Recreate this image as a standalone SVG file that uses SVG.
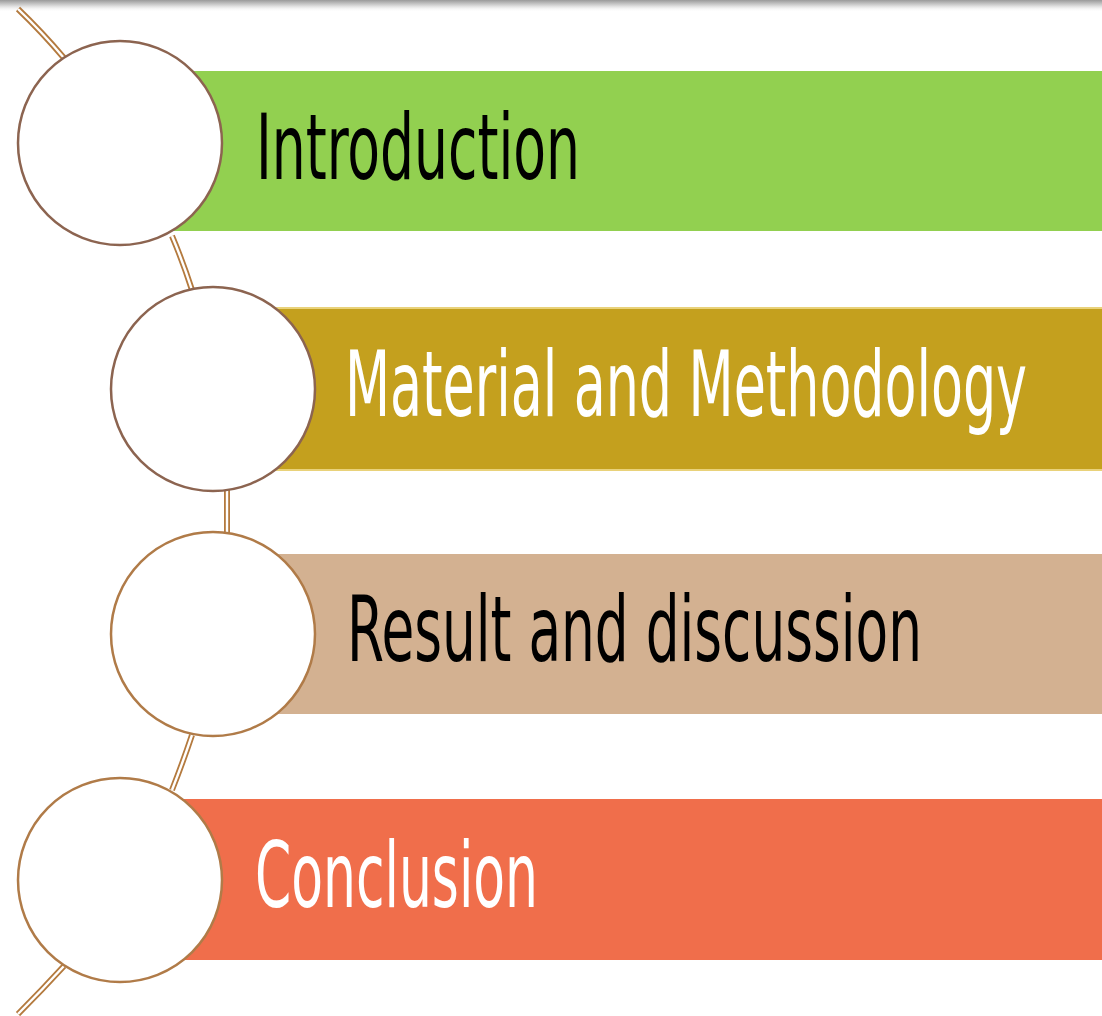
<svg xmlns="http://www.w3.org/2000/svg" width="1102" height="1016" viewBox="0 0 1102 1016">
<defs>
<linearGradient id="shadow" x1="0" y1="0" x2="0" y2="1">
<stop offset="0" stop-color="#9a9a9a"/>
<stop offset="0.5" stop-color="#dcdcdc"/>
<stop offset="1" stop-color="#ffffff" stop-opacity="0"/>
</linearGradient>
</defs>
<style>
.lbl{font-family:"Liberation Sans Narrow","DejaVu Sans Condensed","Liberation Sans",sans-serif;font-size:90px}
.circ{fill:#ffffff;stroke-width:2.5}
.c1{stroke:#8c6450}
.c2{stroke:#b07b48}
.outer{fill:none;stroke:#b47a3e;stroke-width:6}
.inner{fill:none;stroke:#ffffff;stroke-width:2.4}
</style>
<rect x="0" y="0" width="1102" height="1016" fill="#ffffff"/>
<rect x="0" y="0" width="1102" height="12" fill="url(#shadow)"/>
<g id="connectors">
<path class="outer" d="M18,9 Q42,32 64,58"/>
<path class="inner" d="M18,9 Q42,32 64,58"/>
<path class="outer" d="M172,236 Q183,262 192,290"/>
<path class="inner" d="M172,236 Q183,262 192,290"/>
<path class="outer" d="M227,490 L227,534"/>
<path class="inner" d="M227,490 L227,534"/>
<path class="outer" d="M192,735 Q183,762 172,790"/>
<path class="inner" d="M192,735 Q183,762 172,790"/>
<path class="outer" d="M64,966 Q42,990 18,1014"/>
<path class="inner" d="M64,966 Q42,990 18,1014"/>
</g>
<g id="node-introduction">
<rect x="120" y="71" width="982" height="160" fill="#92d050"/>
<circle class="circ c1" cx="120" cy="143" r="102"/>
<text class="lbl" x="256" y="179" fill="#000000" textLength="324" lengthAdjust="spacingAndGlyphs">Introduction</text>
</g>
<g id="node-material">
<rect x="213" y="307" width="889" height="164" fill="#e9d27a"/>
<rect x="213" y="309" width="889" height="160" fill="#c4a01e"/>
<circle class="circ c1" cx="213" cy="389" r="102"/>
<text class="lbl" x="345" y="416" fill="#ffffff" textLength="682" lengthAdjust="spacingAndGlyphs">Material and Methodology</text>
</g>
<g id="node-result">
<rect x="213" y="554" width="889" height="160" fill="#d3b191"/>
<circle class="circ c2" cx="213" cy="634" r="102"/>
<text class="lbl" x="347" y="661" fill="#000000" textLength="575" lengthAdjust="spacingAndGlyphs">Result and discussion</text>
</g>
<g id="node-conclusion">
<rect x="120" y="799" width="982" height="161" fill="#f06e4b"/>
<circle class="circ c2" cx="120" cy="880" r="102"/>
<text class="lbl" x="255" y="907" fill="#ffffff" textLength="283" lengthAdjust="spacingAndGlyphs">Conclusion</text>
</g>
</svg>
